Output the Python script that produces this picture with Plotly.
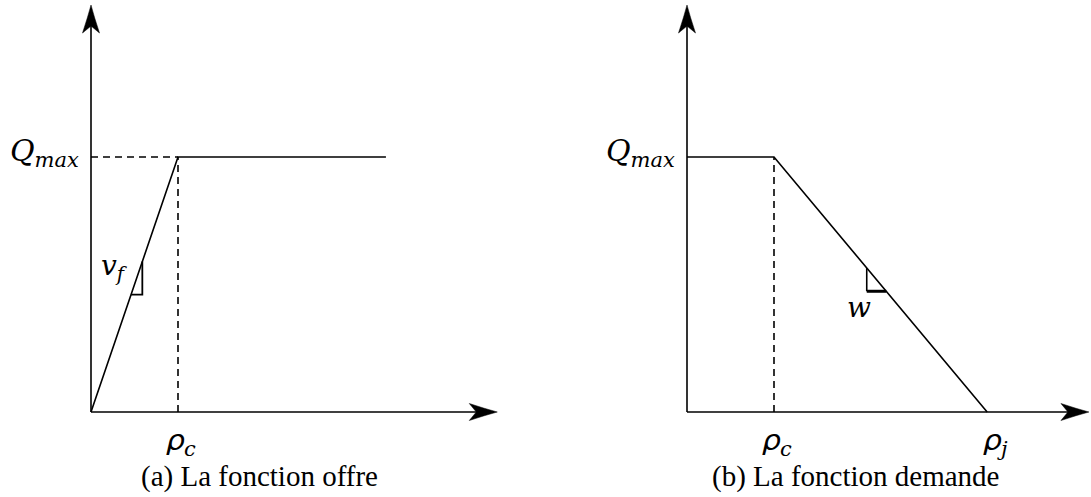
import numpy as np
import plotly.graph_objects as go

# Diagramme fondamental : fonctions offre (a) et demande (b)
RHO_C = 1.0      # densité critique
Q_MAX = 1.0      # débit maximal
RHO_J = 3.45     # densité de congestion (jam)

offre_rho = [0.0, RHO_C, 3.39]
offre_q = [0.0, Q_MAX, Q_MAX]

demande_rho = [0.0, RHO_C, RHO_J]
demande_q = [Q_MAX, Q_MAX, 0.0]

# extrémités des axes (flèches)
axe_x_fin_a = 4.67
axe_x_fin_b = 4.62
axe_y_fin = 1.596

# petits triangles de pente (v_f et w)
pente_offre_rho = [0.46, 0.59]
pente_demande_rho = [2.066, 2.29]

W, H = 1091, 497
PX_X = 87.0    # pixels par unité de densité
PX_Y = 255.0   # pixels par unité de débit
ORIG_A, ORIG_B, ORIG_Y = 91.0, 687.0, 412.0

LW = 1.6
NOIR = "black"
SERIF = "Liberation Serif"

fig = go.Figure()


def segment(xs, ys, axe, dash=None, width=LW):
    fig.add_trace(go.Scatter(
        x=xs, y=ys, mode="lines", xaxis=axe, yaxis="y",
        line=dict(color=NOIR, width=width, dash=dash),
        hoverinfo="skip", showlegend=False,
    ))


def fleche(x, y, axe, vers):
    # pointe façon « stealth », dimensionnée en pixels
    if vers == "droite":
        path = "M0,0 Q-12,3.2 -28,8.5 L-21,0 L-28,-8.5 Q-12,-3.2 0,0 Z"
    else:
        path = "M0,0 Q3.2,-12 8.5,-28 L0,-21 L-8.5,-28 Q-3.2,-12 0,0 Z"
    fig.add_shape(
        type="path", path=path, xref=axe, yref="y",
        xsizemode="pixel", ysizemode="pixel", xanchor=x, yanchor=y,
        fillcolor=NOIR, line=dict(color=NOIR, width=0.5),
    )


for axe, fin_x in (("x", axe_x_fin_a), ("x2", axe_x_fin_b)):
    segment([0, fin_x - 0.12], [0, 0], axe)
    segment([0, 0], [0, axe_y_fin - 0.06], axe)
    fleche(fin_x, 0, axe, "droite")
    fleche(0, axe_y_fin, axe, "haut")

# --- (a) fonction offre
segment([0, RHO_C], [Q_MAX, Q_MAX], "x", dash="7px,5px")
segment([RHO_C, RHO_C], [0, Q_MAX], "x", dash="7px,5px")
segment(offre_rho, offre_q, "x")
r0, r1 = pente_offre_rho
q0, q1 = np.interp([r0, r1], offre_rho, offre_q)
segment([r0, r1, r1], [q0, q0, q1], "x", width=1.8)

# --- (b) fonction demande
segment([RHO_C, RHO_C], [0, Q_MAX], "x2", dash="7px,5px")
segment(demande_rho, demande_q, "x2")
r0, r1 = pente_demande_rho
q0, q1 = np.interp([r0, r1], demande_rho, demande_q)
segment([r0, r0], [q0, q1], "x2", width=1.6)
segment([r0, r1], [q1, q1], "x2", width=3.0)

# lettres mathématiques italiques (bloc Unicode U+1D400)
math = dict(family="DejaVu Serif", size=30, color=NOIR)
q_label = "𝑄<sub>𝑚𝑎𝑥</sub>"
rho_c_label = "𝜌<sub>𝑐</sub>"

annots = [
    dict(x=0, y=Q_MAX, xref="x", yref="y", xanchor="right", yanchor="middle",
         xshift=-10, yshift=5, text=q_label, font=math),
    dict(x=0, y=Q_MAX, xref="x2", yref="y", xanchor="right", yanchor="middle",
         xshift=-10, yshift=5, text=q_label, font=math),
    dict(x=RHO_C, y=0, xref="x", yref="y", xanchor="center", yanchor="top",
         xshift=3, yshift=-8, text=rho_c_label, font=math),
    dict(x=RHO_C, y=0, xref="x2", yref="y", xanchor="center", yanchor="top",
         xshift=3, yshift=-8, text=rho_c_label, font=math),
    dict(x=RHO_J, y=0, xref="x2", yref="y", xanchor="center", yanchor="top",
         xshift=8, yshift=-8, text="𝜌<sub>𝑗</sub>", font=math),
    dict(x=pente_offre_rho[0], y=np.interp(pente_offre_rho[1], offre_rho, offre_q),
         xref="x", yref="y", xanchor="right", yanchor="middle",
         xshift=-1, yshift=-6, text="𝑣<sub>𝑓</sub>", font=dict(math, size=28)),
    dict(x=pente_demande_rho[0], y=np.interp(pente_demande_rho[1], demande_rho, demande_q),
         xref="x2", yref="y", xanchor="center", yanchor="top",
         xshift=-8, yshift=2, text="𝑤", font=dict(math, size=28)),
    dict(x=259.5 / W, y=(H - 476) / H, xref="paper", yref="paper",
         xanchor="center", yanchor="middle", text="(a) La fonction offre",
         font=dict(family=SERIF, size=29, color=NOIR)),
    dict(x=855.5 / W, y=(H - 476) / H, xref="paper", yref="paper",
         xanchor="center", yanchor="middle", text="(b) La fonction demande",
         font=dict(family=SERIF, size=29, color=NOIR)),
]
for a in annots:
    a["showarrow"] = False
    fig.add_annotation(**a)

half = W / 2.0
cache = dict(visible=False, showgrid=False, zeroline=False, fixedrange=True)
fig.update_layout(
    width=W, height=H,
    margin=dict(l=0, r=0, t=0, b=0),
    paper_bgcolor="white", plot_bgcolor="white",
    showlegend=False,
    xaxis=dict(cache, domain=[0, 0.5],
               range=[-ORIG_A / PX_X, (half - ORIG_A) / PX_X]),
    xaxis2=dict(cache, domain=[0.5, 1], anchor="y",
                range=[-(ORIG_B - half) / PX_X, (W - ORIG_B) / PX_X]),
    yaxis=dict(cache, domain=[0, 1],
               range=[-(H - ORIG_Y) / PX_Y, ORIG_Y / PX_Y]),
)

fig.write_html("out.html")
